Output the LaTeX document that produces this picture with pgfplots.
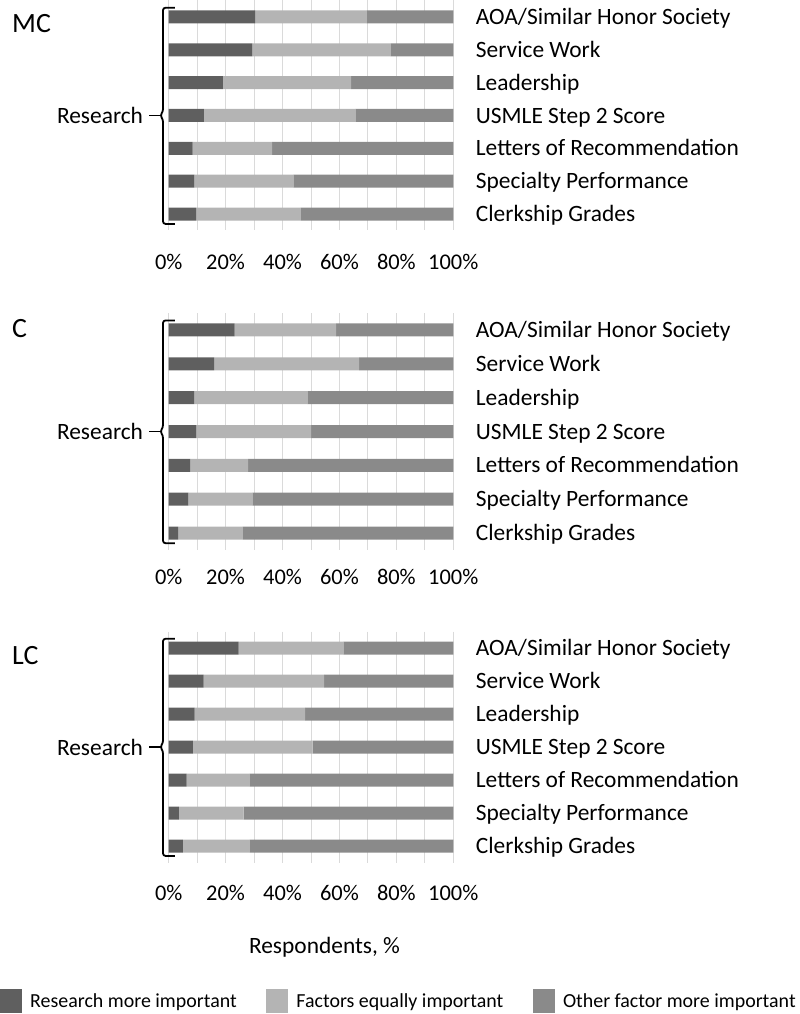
\documentclass[border=0pt]{standalone}
\usepackage{pgfplots}
\pgfplotsset{compat=1.18}
\usepackage{pgfplotstable}
\usepackage{fontspec}
\setmainfont{Carlito}

\definecolor{cR}{HTML}{5F5F5F}
\definecolor{cE}{HTML}{B4B4B4}
\definecolor{cO}{HTML}{8A8A8A}
\definecolor{gridc}{HTML}{DADADA}

\pgfplotstableread{
y R E O
1 30.4 39.2 30.4
2 29.4 48.7 21.9
3 19.0 45.1 35.9
4 12.4 53.2 34.4
5 8.4 27.9 63.7
6 9.0 34.8 56.2
7 9.6 36.8 53.6
}\MC
\pgfplotstableread{
y R E O
1 23.2 35.6 41.2
2 16.0 50.9 33.1
3 8.9 39.8 51.3
4 9.7 40.3 50.0
5 7.5 20.4 72.1
6 6.9 22.5 70.6
7 3.3 22.8 73.9
}\Cdat
\pgfplotstableread{
y R E O
1 24.6 36.8 38.6
2 12.3 42.3 45.4
3 9.1 38.8 52.1
4 8.5 42.1 49.4
5 6.3 22.2 71.5
6 3.6 22.7 73.7
7 5.0 23.5 71.5
}\LC

\pgfplotsset{
 panel/.style={
  xbar stacked, scale only axis, width=284.6bp,
  xmin=0, xmax=100, ymin=0.5, ymax=7.5, y dir=reverse,
  bar width=13bp, clip=false,
  axis line style={draw=none}, tick style={draw=none},
  major tick length=0pt, minor tick length=0pt,
  xtick={0,20,...,100}, minor xtick={10,30,...,90},
  xmajorgrids, xminorgrids,
  major grid style={draw=gridc, line width=0.9bp},
  minor grid style={draw=gridc, line width=0.9bp},
  xticklabels={0\%,20\%,40\%,60\%,80\%,100\%},
  xticklabel style={font=\fontsize{22.5}{27}\selectfont, anchor=base, inner sep=0pt},
  ytick={1,...,7},
  yticklabels={AOA/Similar Honor Society, Service Work, Leadership, USMLE Step 2 Score, Letters of Recommendation, Specialty Performance, Clerkship Grades},
  yticklabel pos=right,
  yticklabel style={font=\fontsize{23.5}{28}\selectfont, anchor=base west, inner sep=0pt, xshift=22.4bp, yshift=-7.6bp},
  /pgf/number format/assume math mode=true,
 },
}

% brace in axis units (x: 1 unit = 2.846bp; y: about 33bp per unit)
\newcommand{\research}{%
  \draw[line width=1.8bp, rounded corners=2.5bp]
    (axis cs:2.21,0.72) -- (axis cs:-2.0,0.72) -- (axis cs:-2.0,3.88)
    -- (axis cs:-2.99,4) -- (axis cs:-2.0,4.12) -- (axis cs:-2.0,7.3) -- (axis cs:2.21,7.3);
  \draw[line width=1.8bp] (axis cs:-2.8,4) -- (axis cs:-6.85,4);
  \node[anchor=east, inner sep=0pt, font=\fontsize{23.5}{28}\selectfont] at (axis cs:-8.96,4) {Research};
}

\begin{document}
\begin{tikzpicture}
\useasboundingbox (0,0) rectangle (800bp,1014bp);

% MC panel
\begin{axis}[panel, at={(168.7bp,783.5bp)}, anchor=south west, height=230bp,
  xticklabel style={yshift=-39.3bp}]
\addplot[fill=cR, draw=none] table[x=R, y=y] {\MC};
\addplot[fill=cE, draw=none] table[x=E, y=y] {\MC};
\addplot[fill=cO, draw=none] table[x=O, y=y] {\MC};
\research
\node[anchor=west, inner sep=0pt, font=\fontsize{28}{33}\selectfont] at (axis cs:-55.06,1.19) {MC};
\end{axis}

% C panel
\begin{axis}[panel, at={(168.7bp,464bp)}, anchor=south west, height=237bp,
  xticklabel style={yshift=-35bp}]
\addplot[fill=cR, draw=none] table[x=R, y=y] {\Cdat};
\addplot[fill=cE, draw=none] table[x=E, y=y] {\Cdat};
\addplot[fill=cO, draw=none] table[x=O, y=y] {\Cdat};
\research
\node[anchor=west, inner sep=0pt, font=\fontsize{28}{33}\selectfont] at (axis cs:-55.06,0.95) {C};
\end{axis}

% LC panel
\begin{axis}[panel, at={(168.7bp,151.5bp)}, anchor=south west, height=231bp,
  xticklabel style={yshift=-37.5bp},
  legend style={at={(axis description cs:0,0)}, anchor=west, xshift=-168.7bp, yshift=-138.5bp,
    draw=none, fill=none, inner sep=0pt, outer sep=0pt,
    font=\fontsize{20}{24}\selectfont,
    /tikz/every even column/.append style={column sep=27.5bp},
    /tikz/every odd column/.append style={column sep=6.2bp}},
  legend columns=3,
  legend cell align=left,
  legend image code/.code={\fill[#1] (0bp,-12bp) rectangle (22bp,12bp);}]
\addplot[fill=cR, draw=none] table[x=R, y=y] {\LC};
\addplot[fill=cE, draw=none] table[x=E, y=y] {\LC};
\addplot[fill=cO, draw=none] table[x=O, y=y] {\LC};
\legend{Research more important, Factors equally important, Other factor more important}
\research
\node[anchor=west, inner sep=0pt, font=\fontsize{28}{33}\selectfont] at (axis cs:-55.06,1.22) {LC};
\node[font=\fontsize{23.5}{28}\selectfont] at (axis cs:54.74,10.07) {Respondents, \%};
\end{axis}
\end{tikzpicture}
\end{document}
